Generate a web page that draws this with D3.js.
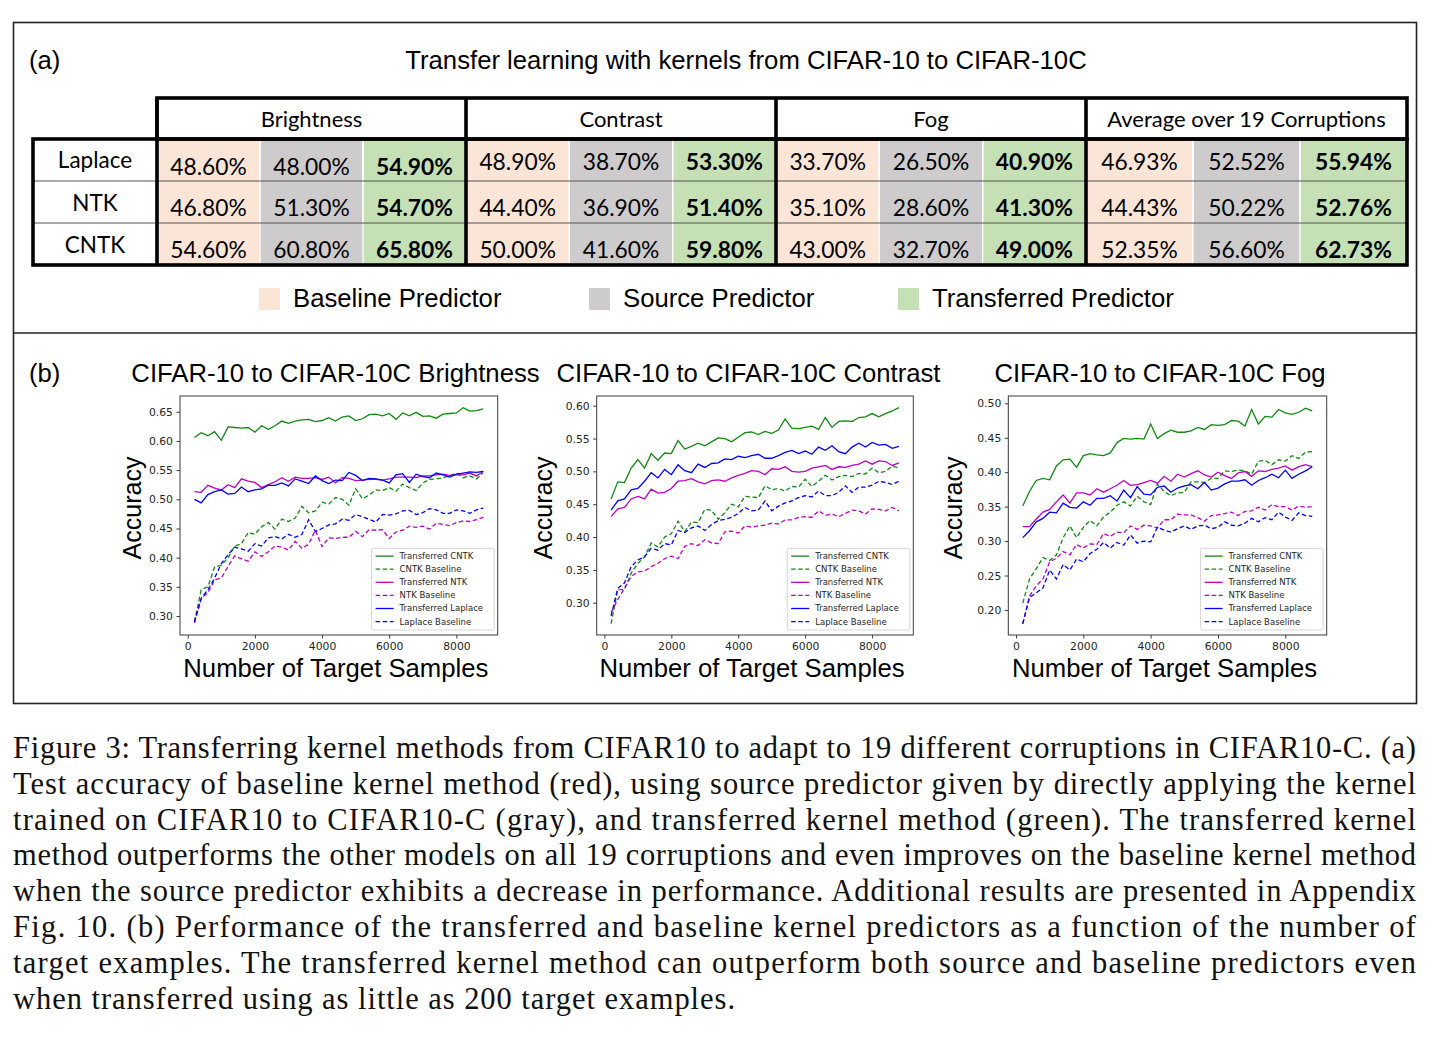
<!DOCTYPE html>
<html><head><meta charset="utf-8">
<script src="https://cdn.jsdelivr.net/npm/d3@7"></script>
<style>body{margin:0;background:#fff}</style>
</head><body><svg id="fig" width="1432" height="1047"></svg>
<script>
// ---------------- DATA ----------------
const tableGroups = ["Brightness", "Contrast", "Fog", "Average over 19 Corruptions"];
const tableRows = ["Laplace", "NTK", "CNTK"];
const baselineVals = [[48.60, 48.90, 33.70, 46.93], [46.80, 44.40, 35.10, 44.43], [54.60, 50.00, 43.00, 52.35]];
const sourceVals   = [[48.00, 38.70, 26.50, 52.52], [51.30, 36.90, 28.60, 50.22], [60.80, 41.60, 32.70, 56.60]];
const transferVals = [[54.90, 53.30, 40.90, 55.94], [54.70, 51.40, 41.30, 52.76], [65.80, 59.80, 49.00, 62.73]];
const predictorLegend = ["Baseline Predictor", "Source Predictor", "Transferred Predictor"];

const seriesNames = ["Transferred CNTK", "CNTK Baseline", "Transferred NTK", "NTK Baseline", "Transferred Laplace", "Laplace Baseline"];
const samples = [200,400,600,800,1000,1200,1400,1600,1800,2000,2200,2400,2600,2800,3000,3200,3400,3600,3800,4000,4200,4400,4600,4800,5000,5200,5400,5600,5800,6000,6200,6400,6600,6800,7000,7200,7400,7600,7800,8000,8200,8400,8600,8800];
const xTicks = [0, 2000, 4000, 6000, 8000];

// Brightness
const brTransCNTK = [.606,.614,.609,.616,.601,.624,.623,.622,.623,.615,.626,.620,.626,.634,.630,.634,.636,.637,.633,.635,.640,.634,.641,.643,.635,.638,.645,.646,.643,.647,.637,.648,.643,.649,.642,.643,.639,.646,.647,.648,.657,.651,.652,.655];
const brBaseCNTK  = [.290,.345,.350,.384,.387,.400,.420,.424,.443,.440,.453,.460,.449,.466,.462,.468,.488,.477,.480,.495,.492,.503,.500,.490,.518,.501,.507,.516,.515,.520,.514,.526,.520,.515,.528,.534,.535,.537,.540,.545,.537,.540,.535,.546];
const brTransNTK  = [.513,.512,.524,.519,.516,.525,.520,.535,.531,.529,.520,.525,.530,.537,.531,.538,.536,.536,.537,.534,.538,.528,.537,.536,.532,.533,.534,.534,.533,.535,.538,.538,.538,.537,.540,.540,.542,.543,.541,.542,.542,.545,.540,.548];
const brBaseNTK   = [.288,.330,.340,.362,.365,.385,.403,.398,.394,.410,.402,.410,.420,.418,.413,.428,.416,.423,.447,.419,.434,.433,.435,.435,.445,.436,.448,.447,.448,.433,.444,.447,.454,.452,.454,.449,.459,.457,.455,.460,.463,.462,.465,.469];
const brTransLap  = [.500,.494,.508,.513,.516,.509,.510,.521,.513,.516,.518,.524,.524,.528,.523,.535,.531,.527,.540,.532,.527,.533,.532,.546,.541,.532,.536,.535,.533,.528,.542,.544,.529,.543,.539,.537,.545,.542,.538,.543,.545,.547,.546,.548];
const brBaseLap   = [.290,.330,.345,.365,.390,.405,.418,.415,.411,.424,.420,.434,.436,.432,.440,.435,.440,.465,.445,.450,.456,.458,.466,.464,.474,.470,.466,.461,.474,.473,.475,.480,.481,.474,.477,.484,.482,.476,.476,.482,.480,.476,.482,.485];

// Contrast
const coTransCNTK = [.458,.484,.483,.505,.518,.505,.527,.517,.528,.527,.547,.534,.538,.543,.539,.545,.551,.550,.545,.552,.559,.560,.556,.561,.558,.563,.580,.566,.565,.567,.569,.564,.582,.567,.576,.577,.576,.582,.583,.588,.583,.588,.592,.597];
const coBaseCNTK  = [.268,.320,.320,.345,.360,.370,.391,.385,.400,.405,.424,.408,.423,.422,.442,.441,.427,.437,.450,.446,.462,.461,.460,.478,.472,.474,.470,.477,.476,.488,.477,.485,.494,.487,.492,.494,.492,.497,.496,.505,.498,.500,.508,.505];
const coTransNTK  = [.431,.443,.445,.458,.462,.458,.473,.467,.468,.474,.485,.486,.489,.484,.481,.486,.487,.485,.490,.494,.497,.501,.500,.495,.504,.503,.507,.500,.499,.500,.505,.507,.509,.503,.507,.506,.509,.511,.516,.511,.516,.515,.509,.513];
const coBaseNTK   = [.285,.305,.322,.340,.347,.348,.355,.360,.367,.371,.367,.386,.390,.387,.396,.391,.390,.408,.409,.406,.417,.415,.417,.418,.421,.420,.426,.426,.430,.431,.430,.440,.433,.435,.431,.436,.441,.440,.435,.443,.442,.440,.445,.440];
const coTransLap  = [.441,.455,.458,.472,.474,.485,.498,.490,.503,.495,.510,.501,.498,.511,.506,.512,.513,.519,.518,.523,.521,.524,.526,.520,.520,.524,.529,.532,.527,.531,.526,.537,.532,.539,.530,.527,.537,.543,.537,.544,.540,.541,.535,.538];
const coBaseLap   = [.280,.322,.330,.355,.365,.370,.383,.380,.390,.388,.410,.407,.414,.417,.410,.419,.425,.427,.430,.436,.445,.440,.441,.455,.440,.447,.452,.455,.460,.463,.461,.470,.463,.463,.468,.478,.468,.476,.476,.479,.485,.483,.480,.485];

// Fog
const fgTransCNTK = [.351,.372,.388,.391,.389,.409,.418,.419,.407,.424,.427,.425,.424,.428,.443,.449,.448,.449,.448,.470,.449,.456,.461,.458,.458,.460,.465,.462,.469,.468,.469,.475,.474,.467,.491,.470,.481,.480,.491,.486,.484,.487,.493,.489];
const fgBaseCNTK  = [.210,.245,.260,.276,.272,.280,.305,.322,.305,.320,.330,.322,.335,.342,.352,.357,.351,.365,.357,.353,.383,.372,.366,.370,.371,.386,.386,.385,.391,.391,.402,.401,.403,.402,.397,.416,.417,.411,.418,.416,.424,.420,.429,.430];
const fgTransNTK  = [.321,.321,.332,.342,.346,.357,.367,.355,.370,.370,.367,.376,.371,.376,.381,.388,.381,.382,.385,.388,.384,.394,.387,.397,.393,.398,.402,.396,.393,.400,.395,.391,.399,.401,.394,.402,.401,.404,.406,.409,.403,.408,.411,.408];
const fgBaseNTK   = [.180,.220,.235,.245,.270,.275,.285,.280,.295,.290,.296,.295,.311,.307,.313,.312,.322,.317,.323,.322,.319,.331,.331,.339,.338,.338,.334,.329,.337,.338,.340,.342,.337,.343,.344,.349,.345,.353,.350,.350,.345,.351,.349,.350];
const fgTransLap  = [.305,.315,.328,.333,.342,.341,.355,.349,.348,.357,.352,.362,.362,.366,.358,.374,.363,.379,.368,.367,.378,.380,.371,.377,.380,.382,.376,.385,.374,.377,.383,.387,.387,.389,.381,.388,.392,.397,.392,.403,.391,.397,.402,.408];
const fgBaseLap   = [.180,.218,.225,.232,.258,.245,.266,.258,.274,.270,.282,.288,.298,.290,.298,.294,.309,.297,.300,.299,.320,.316,.313,.318,.322,.317,.322,.323,.318,.320,.328,.323,.322,.326,.333,.328,.334,.331,.342,.335,.330,.341,.337,.336];

const plotTitles = ["CIFAR-10 to CIFAR-10C Brightness", "CIFAR-10 to CIFAR-10C Contrast", "CIFAR-10 to CIFAR-10C Fog"];
const yTicksBr = [0.30, 0.35, 0.40, 0.45, 0.50, 0.55, 0.60, 0.65];
const yTicksCo = [0.30, 0.35, 0.40, 0.45, 0.50, 0.55, 0.60];
const yTicksFg = [0.20, 0.25, 0.30, 0.35, 0.40, 0.45, 0.50];

const captionLines = [
  "Figure 3: Transferring kernel methods from CIFAR10 to adapt to 19 different corruptions in CIFAR10-C. (a)",
  "Test accuracy of baseline kernel method (red), using source predictor given by directly applying the kernel",
  "trained on CIFAR10 to CIFAR10-C (gray), and transferred kernel method (green). The transferred kernel",
  "method outperforms the other models on all 19 corruptions and even improves on the baseline kernel method",
  "when the source predictor exhibits a decrease in performance. Additional results are presented in Appendix",
  "Fig. 10. (b) Performance of the transferred and baseline kernel predictors as a function of the number of",
  "target examples. The transferred kernel method can outperform both source and baseline predictors even",
  "when transferred using as little as 200 target examples."
];

// ---------------- STYLE / LAYOUT ----------------
const SANS = "'Liberation Sans', Arial, Helvetica, sans-serif";
const TAB = "Lato, 'Open Sans', sans-serif";
const MPL = "'DejaVu Sans', sans-serif";
const SERIF = "'Liberation Serif', 'Times New Roman', serif";
const cellColors = ["#FBE5D6", "#CDCBCB", "#C5E0B4"];
const lineColors = ["#108a10", "#108a10", "#c000c0", "#c000c0", "#0000ff", "#0000ff"];
const lineDash = [null, "4.5,2.6", null, "4.5,2.6", null, "4.5,2.6"];

const svg = d3.select("#fig");
svg.append("rect").attr("width", 1432).attr("height", 1047).attr("fill", "#fff");

// outer frame of the figure
svg.append("rect").attr("x", 13.5).attr("y", 22.5).attr("width", 1403).attr("height", 681)
  .attr("fill", "none").attr("stroke", "#222").attr("stroke-width", 1.6);
svg.append("line").attr("x1", 13.5).attr("x2", 1416.5).attr("y1", 333).attr("y2", 333)
  .attr("stroke", "#222").attr("stroke-width", 1.6);

// ---------------- (a) TABLE ----------------
svg.append("text").attr("x", 29).attr("y", 69).attr("font-family", SANS).attr("font-size", 25.7).text("(a)");
svg.append("text").attr("x", 746).attr("y", 69).attr("text-anchor", "middle").attr("font-family", SANS)
  .attr("font-size", 25.7).text("Transfer learning with kernels from CIFAR-10 to CIFAR-10C");

const groupEdges = [157, 466, 776, 1086, 1407];
const rowEdges = [139, 181, 223, 265];
const headerTop = 98, labelLeft = 33;
const rowBase = [169.5, 216, 258];
const labelBase = [168, 211, 253];
const tbl = svg.append("g");

tableGroups.forEach((g, gi) => {
  const x0 = groupEdges[gi], x1 = groupEdges[gi + 1], w = (x1 - x0) / 3;
  tbl.append("text").attr("x", (x0 + x1) / 2).attr("y", 127).attr("text-anchor", "middle")
    .attr("font-family", TAB).attr("font-size", 22).text(g);
  tableRows.forEach((r, ri) => {
    const vals = [baselineVals[ri][gi], sourceVals[ri][gi], transferVals[ri][gi]];
    vals.forEach((v, k) => {
      const cx = x0 + k * w;
      tbl.append("rect").attr("x", cx).attr("y", rowEdges[ri]).attr("width", w)
        .attr("height", rowEdges[ri + 1] - rowEdges[ri]).attr("fill", cellColors[k]);
      const by = (ri === 0 && gi === 0) ? 175 : rowBase[ri];
      tbl.append("text").attr("x", cx + w / 2).attr("y", by).attr("text-anchor", "middle")
        .attr("font-family", TAB).attr("font-size", 22.8).attr("font-weight", k === 2 ? 700 : 400)
        .attr("fill", "#000").text(v.toFixed(2) + "%");
    });
    [1, 2].forEach(k => {
      tbl.append("line").attr("x1", x0 + k * w).attr("x2", x0 + k * w)
        .attr("y1", rowEdges[0]).attr("y2", rowEdges[3]).attr("stroke", "#fff").attr("stroke-width", 1.2);
    });
  });
});
tableRows.forEach((r, ri) => {
  tbl.append("text").attr("x", (labelLeft + groupEdges[0]) / 2).attr("y", labelBase[ri])
    .attr("text-anchor", "middle").attr("font-family", TAB).attr("font-size", 22.5).text(r);
});
[1, 2].forEach(i => {
  tbl.append("line").attr("x1", labelLeft).attr("x2", groupEdges[4]).attr("y1", rowEdges[i]).attr("y2", rowEdges[i])
    .attr("stroke", "#555").attr("stroke-width", 1);
});
const thick = 3.6;
tbl.append("rect").attr("x", groupEdges[0]).attr("y", headerTop).attr("width", groupEdges[4] - groupEdges[0])
  .attr("height", rowEdges[0] - headerTop).attr("fill", "none").attr("stroke", "#000").attr("stroke-width", thick);
tbl.append("rect").attr("x", labelLeft).attr("y", rowEdges[0]).attr("width", groupEdges[4] - labelLeft)
  .attr("height", rowEdges[3] - rowEdges[0]).attr("fill", "none").attr("stroke", "#000").attr("stroke-width", thick);
groupEdges.slice(0, 4).forEach(x => {
  tbl.append("line").attr("x1", x).attr("x2", x).attr("y1", headerTop).attr("y2", rowEdges[3])
    .attr("stroke", "#000").attr("stroke-width", thick);
});

// legend for table
const legX = [259, 589, 898];
predictorLegend.forEach((t, i) => {
  svg.append("rect").attr("x", legX[i]).attr("y", 288).attr("width", 21).attr("height", 22).attr("fill", cellColors[i]);
  svg.append("text").attr("x", legX[i] + 34).attr("y", 307).attr("font-family", SANS).attr("font-size", 25.7)
    .text(t);
});

// ---------------- (b) LINE PLOTS ----------------
svg.append("text").attr("x", 29).attr("y", 382).attr("font-family", SANS).attr("font-size", 25.7).text("(b)");

const plots = [
  { left: 180, right: 497.7, yDomain: [0.2675, 0.677], yTicks: yTicksBr, title: plotTitles[0], titleX: 335.5, ylabX: 140.5,
    series: [brTransCNTK, brBaseCNTK, brTransNTK, brBaseNTK, brTransLap, brBaseLap] },
  { left: 596.7, right: 913.3, yDomain: [0.2508, 0.6148], yTicks: yTicksCo, title: plotTitles[1], titleX: 748.5, ylabX: 552,
    series: [coTransCNTK, coBaseCNTK, coTransNTK, coBaseNTK, coTransLap, coBaseLap] },
  { left: 1008.3, right: 1326.7, yDomain: [0.1637, 0.5106], yTicks: yTicksFg, title: plotTitles[2], titleX: 1160, ylabX: 961.5,
    series: [fgTransCNTK, fgBaseCNTK, fgTransNTK, fgBaseNTK, fgTransLap, fgBaseLap] }
];
const pTop = 396, pBottom = 635;

plots.forEach(p => {
  const g = svg.append("g");
  const x = d3.scaleLinear().domain([-230, 9230]).range([p.left, p.right]);
  const y = d3.scaleLinear().domain(p.yDomain).range([pBottom, pTop]);

  g.append("text").attr("x", p.titleX).attr("y", 382).attr("text-anchor", "middle")
    .attr("font-family", SANS).attr("font-size", 25.7).text(p.title);

  const line = d3.line().x((d, i) => x(samples[i])).y(d => y(d));
  p.series.forEach((s, si) => {
    g.append("path").datum(s).attr("d", line).attr("fill", "none")
      .attr("stroke", lineColors[si]).attr("stroke-width", 1.3)
      .attr("stroke-dasharray", lineDash[si]);
  });

  g.append("rect").attr("x", p.left).attr("y", pTop).attr("width", p.right - p.left).attr("height", pBottom - pTop)
    .attr("fill", "none").attr("stroke", "#3a3a3a").attr("stroke-width", 1);

  const xa = g.append("g").attr("transform", `translate(0,${pBottom})`)
    .call(d3.axisBottom(x).tickValues(xTicks).tickSize(3.5).tickPadding(3.5).tickFormat(d3.format("d")));
  const ya = g.append("g").attr("transform", `translate(${p.left},0)`)
    .call(d3.axisLeft(y).tickValues(p.yTicks).tickSize(3.5).tickPadding(3.5).tickFormat(d3.format(".2f")));
  [xa, ya].forEach(a => {
    a.select(".domain").remove();
    a.selectAll("line").attr("stroke", "#3a3a3a");
    a.selectAll("text").attr("font-family", MPL).attr("font-size", 10.8).attr("fill", "#262626");
  });

  g.append("text").attr("x", (p.left + p.right) / 2 - 3).attr("y", 677).attr("text-anchor", "middle")
    .attr("font-family", SANS).attr("font-size", 25.7).text("Number of Target Samples");
  g.append("text").attr("transform", `translate(${p.ylabX},508) rotate(-90)`).attr("text-anchor", "middle")
    .attr("font-family", SANS).attr("font-size", 25).text("Accuracy");

  // legend
  const lw = 122.6, lh = 81.7;
  const lx = p.right - 3.5 - lw, ly = pBottom - 5 - lh;
  g.append("rect").attr("x", lx).attr("y", ly).attr("width", lw).attr("height", lh).attr("rx", 2)
    .attr("fill", "#fff").attr("fill-opacity", 0.85).attr("stroke", "#d6d6d6").attr("stroke-width", 1);
  seriesNames.forEach((n, i) => {
    const yy = ly + 7.8 + i * 13.1;
    g.append("line").attr("x1", lx + 4).attr("x2", lx + 22).attr("y1", yy).attr("y2", yy)
      .attr("stroke", lineColors[i]).attr("stroke-width", 1.3).attr("stroke-dasharray", lineDash[i]);
    g.append("text").attr("x", lx + 28).attr("y", yy).attr("dy", "0.35em")
      .attr("font-family", MPL).attr("font-size", 8.5).attr("fill", "#262626").text(n);
  });
});

// ---------------- CAPTION ----------------
captionLines.forEach((t, i) => {
  const last = i === captionLines.length - 1;
  svg.append("text").attr("x", 13).attr("y", 758 + i * 35.8).attr("font-family", SERIF)
    .attr("font-size", 30.5).attr("fill", "#111")
    .attr("textLength", last ? 722 : 1403).attr("lengthAdjust", "spacing").text(t);
});
</script></body></html>
